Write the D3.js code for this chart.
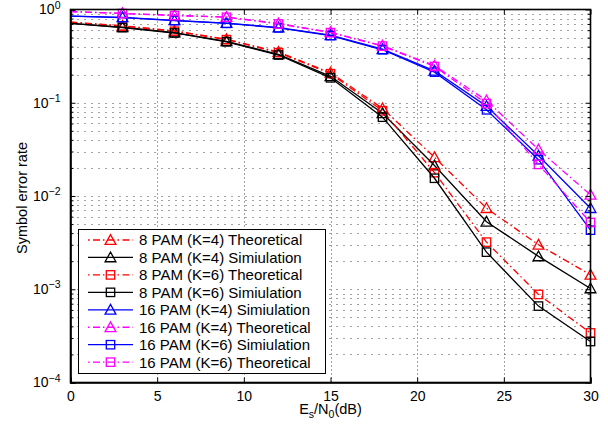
<!DOCTYPE html>
<html>
<head>
<meta charset="utf-8">
<script src="https://cdn.jsdelivr.net/npm/d3@7"></script>
<style>
  html, body { margin: 0; padding: 0; background: #fff; }
  svg { display: block; font-family: "Liberation Sans", Arial, Helvetica, sans-serif; }
</style>
</head>
<body>
<svg id="chart" width="608" height="428"></svg>
<script>
// ---------------- data ----------------
const snrDb = [0, 3, 6, 9, 12, 15, 18, 21, 24, 27, 30];
const xTicks = [0, 5, 10, 15, 20, 25, 30];
const yDecades = [1e-4, 1e-3, 1e-2, 1e-1, 1];
const yExponents = ["−4", "−3", "−2", "−1", "0"];

const pam8K4Theo = [0.73, 0.67, 0.59, 0.48, 0.35, 0.21, 0.087, 0.026, 0.0074, 0.0030, 0.00143];
const pam8K4Sim  = [0.71, 0.645, 0.565, 0.455, 0.33, 0.192, 0.077, 0.0212, 0.0053, 0.00225, 0.00102];
const pam8K6Theo = [0.73, 0.665, 0.585, 0.475, 0.345, 0.205, 0.082, 0.0178, 0.0032, 0.00088, 0.00034];
const pam8K6Sim  = [0.71, 0.64, 0.56, 0.45, 0.325, 0.185, 0.070, 0.0155, 0.0025, 0.00066, 0.000275];
const pam16K4Sim  = [0.85, 0.825, 0.765, 0.715, 0.64, 0.53, 0.375, 0.22, 0.092, 0.027, 0.0074];
const pam16K4Theo = [0.95, 0.91, 0.865, 0.83, 0.71, 0.57, 0.41, 0.25, 0.106, 0.0315, 0.0103];
const pam16K6Sim  = [0.85, 0.82, 0.76, 0.71, 0.635, 0.525, 0.37, 0.213, 0.084, 0.0245, 0.0043];
const pam16K6Theo = [0.95, 0.905, 0.86, 0.825, 0.70, 0.565, 0.405, 0.245, 0.098, 0.0218, 0.0052];

const seriesNames = [
  "8 PAM (K=4) Theoretical",
  "8 PAM (K=4) Simiulation",
  "8 PAM (K=6) Theoretical",
  "8 PAM (K=6) Simiulation",
  "16 PAM (K=4) Simiulation",
  "16 PAM (K=4) Theoretical",
  "16 PAM (K=6) Simiulation",
  "16 PAM (K=6) Theoretical"
];
const seriesValues = [pam8K4Theo, pam8K4Sim, pam8K6Theo, pam8K6Sim, pam16K4Sim, pam16K4Theo, pam16K6Sim, pam16K6Theo];
const seriesColors = ["#ff0000", "#000000", "#ff0000", "#000000", "#0000ff", "#ff00ff", "#0000ff", "#ff00ff"];
const seriesMarkers = ["tri", "tri", "sq", "sq", "tri", "tri", "sq", "sq"];
const seriesDashed = [true, false, true, false, false, true, false, true];

// ---------------- layout ----------------
const L = 70.5, R = 590.5, T = 9.5, B = 382.5;
const svg = d3.select("#chart");
const x = d3.scaleLinear().domain([0, 30]).range([L, R]);
const y = d3.scaleLog().domain([1e-4, 1]).range([B, T]);

const DASH = "7,3,1.5,3";

// grid
const grid = svg.append("g");
grid.selectAll("line.vg").data(xTicks.slice(1, -1)).join("line")
  .attr("x1", d => Math.round(x(d)) + 0.5).attr("x2", d => Math.round(x(d)) + 0.5)
  .attr("y1", T).attr("y2", B)
  .attr("stroke", "#444").attr("stroke-width", 1).attr("stroke-dasharray", "1,3");
const yGridVals = y.ticks().filter(v => v > 1e-4 && v < 1);
grid.selectAll("line.hg").data(yGridVals).join("line")
  .attr("x1", L).attr("x2", R)
  .attr("y1", d => Math.round(y(d)) + 0.5).attr("y2", d => Math.round(y(d)) + 0.5)
  .attr("stroke", "#444").attr("stroke-width", 1).attr("stroke-dasharray", "1,6");

// series
const line = d3.line().x((d, i) => x(snrDb[i])).y(d => y(d));
const plot = svg.append("g");
function drawMarker(g, type, cx, cy, color) {
  if (type === "tri") {
    const s = 5.4;
    g.append("path")
      .attr("d", `M${cx},${cy - s} L${cx + s},${cy + s * 0.8} L${cx - s},${cy + s * 0.8} Z`)
      .attr("fill", "none").attr("stroke", color).attr("stroke-width", 1.3);
  } else {
    const s = 4.2;
    g.append("rect").attr("x", cx - s).attr("y", cy - s).attr("width", 2 * s).attr("height", 2 * s)
      .attr("fill", "none").attr("stroke", color).attr("stroke-width", 1.3);
  }
}
seriesValues.forEach((vals, k) => {
  const g = plot.append("g");
  g.append("path").datum(vals).attr("d", line)
    .attr("fill", "none").attr("stroke", seriesColors[k]).attr("stroke-width", 1.3)
    .attr("stroke-dasharray", seriesDashed[k] ? DASH : null);
  vals.forEach((v, i) => {
    if (i === 0) return;
    drawMarker(g, seriesMarkers[k], x(snrDb[i]), y(v), seriesColors[k]);
  });
});

// axes
const fontSize = 14;
const xAxis = svg.append("g").attr("transform", `translate(0,${B})`)
  .call(d3.axisBottom(x).tickValues(xTicks).tickSize(-5).tickPadding(9).tickFormat(d3.format("d")));
const xTop = svg.append("g").attr("transform", `translate(0,${T})`)
  .call(d3.axisTop(x).tickValues(xTicks).tickSize(-5).tickFormat(""));
const yAxis = svg.append("g").attr("transform", `translate(${L},0)`)
  .call(d3.axisLeft(y).tickValues(yDecades).tickSize(-5).tickPadding(9).tickFormat(""));
const yMinorL = svg.append("g").attr("transform", `translate(${L},0)`)
  .call(d3.axisLeft(y).tickValues(yGridVals.filter(v => !yDecades.includes(v))).tickSize(-3).tickFormat(""));
const yRight = svg.append("g").attr("transform", `translate(${R},0)`)
  .call(d3.axisRight(y).tickValues(yDecades).tickSize(-5).tickFormat(""));
const yMinorR = svg.append("g").attr("transform", `translate(${R},0)`)
  .call(d3.axisRight(y).tickValues(yGridVals.filter(v => !yDecades.includes(v))).tickSize(-3).tickFormat(""));

[xAxis, xTop, yAxis, yMinorL, yRight, yMinorR].forEach(a => {
  a.select(".domain").attr("stroke", "#000").attr("stroke-width", 1.6);
  a.selectAll(".tick line").attr("stroke", "#000").attr("stroke-width", 1);
  a.selectAll("text").attr("font-size", fontSize).attr("fill", "#000")
    .attr("font-family", "'Liberation Sans', Arial, sans-serif");
});
[yMinorL, yMinorR, xTop, yRight].forEach(a => a.select(".domain").remove());

// superscript labels on y-axis ticks
yAxis.selectAll(".tick").each(function(d, i) {
  const t = d3.select(this).select("text");
  t.text(null).attr("x", -10).attr("dy", "0.32em");
  t.append("tspan").text("10");
  t.append("tspan").attr("dy", "-0.55em").attr("font-size", 10.5).text(yExponents[yDecades.indexOf(d)]);
});

// frame
svg.append("rect").attr("x", L).attr("y", T).attr("width", R - L).attr("height", B - T)
  .attr("fill", "none").attr("stroke", "#000").attr("stroke-width", 1.6);

// axis titles
svg.append("text").attr("transform", `translate(27,${(T + B) / 2 + 2}) rotate(-90)`)
  .attr("text-anchor", "middle").attr("font-size", 14.5).text("Symbol error rate");
const xl = svg.append("text").attr("x", (L + R) / 2).attr("y", 414).attr("text-anchor", "middle").attr("font-size", 14.5);
xl.append("tspan").text("E");
xl.append("tspan").attr("dy", 4).attr("font-size", 10.5).text("s");
xl.append("tspan").attr("dy", -4).text("/N");
xl.append("tspan").attr("dy", 4).attr("font-size", 10.5).text("0");
xl.append("tspan").attr("dy", -4).text("(dB)");

// legend
const lg = svg.append("g");
const lgX = 78.5, lgY = 229.5, lgW = 247, lgH = 144, rowH = 17.45, row0 = 240;
lg.append("rect").attr("x", lgX).attr("y", lgY).attr("width", lgW).attr("height", lgH)
  .attr("fill", "#fff").attr("stroke", "#000").attr("stroke-width", 1);
seriesNames.forEach((name, k) => {
  const cy = row0 + k * rowH;
  lg.append("line").attr("x1", 88).attr("x2", 133).attr("y1", cy).attr("y2", cy)
    .attr("stroke", seriesColors[k]).attr("stroke-width", 1.3)
    .attr("stroke-dasharray", seriesDashed[k] ? "1.5,3.5,7,3,1.5,3,7,3" : null);
  drawMarker(lg, seriesMarkers[k], 110.5, cy, seriesColors[k]);
  lg.append("text").attr("x", 139).attr("y", cy).attr("dy", "0.36em")
    .attr("font-size", 15).attr("fill", "#000").text(name);
});
</script>
</body>
</html>
